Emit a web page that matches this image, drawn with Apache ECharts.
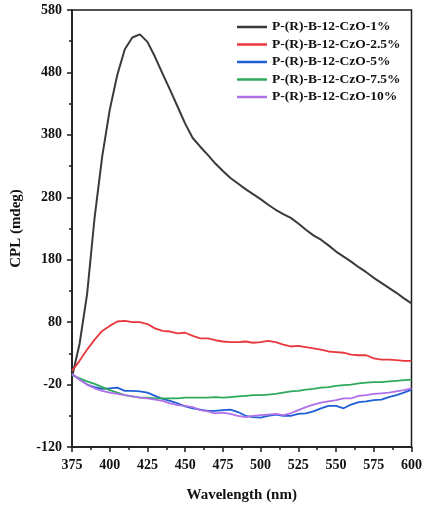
<!DOCTYPE html>
<html>
<head>
<meta charset="utf-8">
<script src="https://cdn.jsdelivr.net/npm/echarts@6/dist/echarts.min.js"></script>
<style>
  html, body { margin: 0; padding: 0; background: #fff; }
  #chart { width: 425px; height: 512px; }
</style>
</head>
<body>
<div id="chart"></div>
<script>
// Wavelength grid (nm), 5 nm steps
const wavelengths = [];
for (let w = 375; w <= 600; w += 5) wavelengths.push(w);

const seriesNames = [
  'P-(R)-B-12-CzO-1%',
  'P-(R)-B-12-CzO-2.5%',
  'P-(R)-B-12-CzO-5%',
  'P-(R)-B-12-CzO-7.5%',
  'P-(R)-B-12-CzO-10%'
];

// CPL (mdeg) per doping ratio
const cpl1 = [-8, 45, 125, 248, 345, 420, 476, 517, 536, 541, 529, 505, 478, 452, 425, 398,
  375, 361, 348, 334, 322, 311, 302, 293, 285, 277, 268, 260, 253, 247, 238, 228, 219, 212,
  203, 193, 185, 177, 168, 160, 151, 143, 135, 127, 118, 110];
const cpl25 = [2, 18, 36, 52, 66, 74, 81, 82, 80, 80, 77, 70, 66, 65, 62, 63, 58, 54, 54, 51,
  49, 48, 48, 49, 47, 48, 50, 48, 44, 41, 42, 40, 38, 36, 33, 32, 31, 28, 27, 27, 22, 20, 20,
  19, 18, 18];
const cpl5 = [-3, -12, -20, -24, -27, -26, -25, -30, -30, -31, -33, -38, -43, -46, -50, -55,
  -58, -60, -62, -62, -61, -60, -64, -70, -72, -73, -70, -68, -70, -70, -67, -66, -63, -58,
  -54, -54, -58, -52, -48, -47, -45, -44, -40, -37, -33, -28];
const cpl75 = [-5, -10, -15, -19, -24, -29, -33, -37, -39, -41, -41, -42, -42, -42, -42, -41,
  -41, -41, -41, -40, -41, -40, -39, -38, -37, -37, -36, -35, -33, -31, -30, -28, -27, -25,
  -24, -22, -21, -20, -18, -17, -16, -16, -15, -14, -13, -12];
const cpl10 = [-3, -12, -20, -26, -30, -33, -35, -37, -39, -41, -42, -44, -46, -50, -53, -54,
  -56, -61, -63, -66, -65, -67, -70, -72, -70, -69, -68, -67, -69, -66, -61, -56, -52, -49,
  -47, -45, -42, -42, -38, -37, -35, -34, -33, -31, -29, -26];

const seriesData = [cpl1, cpl25, cpl5, cpl75, cpl10];
const colors = ['#3a3a3a', '#e8383d', '#1f5fd6', '#2eaa5a', '#b070e8'];

const font = 'Liberation Serif, Times New Roman, serif';
const ink = '#111';

const chart = echarts.init(document.getElementById('chart'), null, { renderer: 'canvas' });

chart.setOption({
  animation: false,
  grid: {
    left: 72, top: 10, right: 13, bottom: 65,
    show: true, borderColor: '#1a1a1a', borderWidth: 1.5, backgroundColor: 'transparent'
  },
  legend: {
    orient: 'vertical',
    left: 237, top: 20,
    padding: 0,
    icon: 'rect',
    itemWidth: 30, itemHeight: 2.5,
    itemGap: 3.5,
    textStyle: { fontFamily: font, fontWeight: 'bold', fontSize: 13.5, color: ink, padding: [0, 0, 0, 0] },
    data: seriesNames
  },
  xAxis: {
    type: 'value',
    min: 375, max: 600, interval: 25,
    name: 'Wavelength (nm)',
    nameLocation: 'middle',
    nameGap: 41,
    nameTextStyle: { fontFamily: font, fontWeight: 'bold', fontSize: 15, color: ink },
    axisLine: { show: true, onZero: false, lineStyle: { color: '#1a1a1a', width: 1.5 } },
    axisTick: { show: true, length: 5, lineStyle: { color: '#1a1a1a', width: 1.5 } },
    minorTick: { show: true, splitNumber: 2, length: 3, lineStyle: { color: '#1a1a1a', width: 1.5 } },
    axisLabel: { fontFamily: font, fontWeight: 'bold', fontSize: 14, color: ink, margin: 11 },
    splitLine: { show: false }
  },
  yAxis: {
    type: 'value',
    min: -120, max: 580, interval: 100,
    name: 'CPL (mdeg)',
    nameLocation: 'middle',
    nameGap: 48,
    nameTextStyle: { fontFamily: font, fontWeight: 'bold', fontSize: 15, color: ink },
    axisLine: { show: true, onZero: false, lineStyle: { color: '#1a1a1a', width: 1.5 } },
    axisTick: { show: true, length: 5, lineStyle: { color: '#1a1a1a', width: 1.5 } },
    minorTick: { show: true, splitNumber: 2, length: 3, lineStyle: { color: '#1a1a1a', width: 1.5 } },
    axisLabel: { fontFamily: font, fontWeight: 'bold', fontSize: 14, color: ink, margin: 10 },
    splitLine: { show: false }
  },
  series: seriesNames.map((name, i) => ({
    name: name,
    type: 'line',
    data: wavelengths.map((w, j) => [w, seriesData[i][j]]),
    showSymbol: false,
    smooth: false,
    color: colors[i],
    lineStyle: { color: colors[i], width: i === 0 ? 2 : 1.8 },
    z: 2 + i
  }))
});
</script>
</body>
</html>
